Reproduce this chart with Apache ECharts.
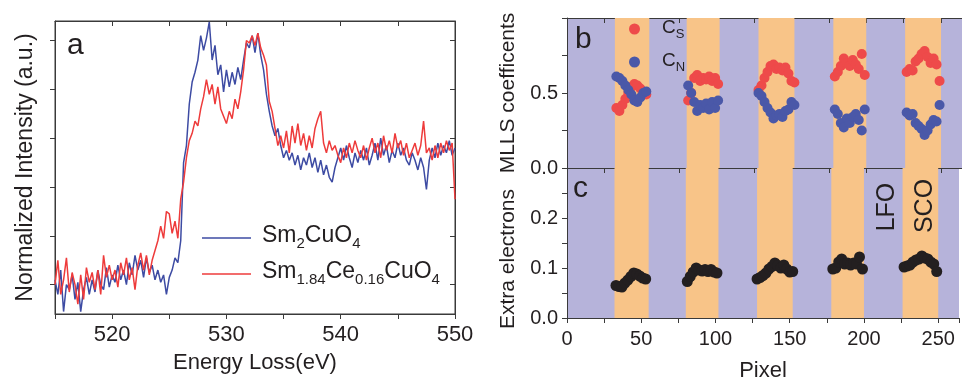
<!DOCTYPE html>
<html>
<head>
<meta charset="utf-8">
<script src="https://cdn.jsdelivr.net/npm/echarts@6.0.0/dist/echarts.min.js"></script>
<style>
  html, body { margin: 0; padding: 0; background: #fff; }
  #chart { width: 962px; height: 383px; }
</style>
</head>
<body>
<div id="chart"></div>
<script>
// panel a: EELS O-K edge, sampled every 0.25 eV from 515 eV
const energyStart = 515;
const energyStep = 0.25;
const sm2cuo4 = [
  0.10, -0.20, 0.30, -0.55, 0.00, -0.10, 0.20, -0.30,
  0.05, -0.55, -0.10, 0.15, -0.20, 0.10, -0.15, 0.30,
  0.00, -0.10, 0.35, -0.05, 0.20, 0.05, 0.40, 0.10,
  0.30, 0.00, 0.45, 0.20, 0.60, 0.30, 0.50, 0.15,
  0.55, 0.25, 0.40, 0.10, 0.30, 0.05, 0.20, -0.20,
  0.15, 0.30, 0.55, 0.45, 0.90, 2.50, 2.85, 3.70,
  4.15, 4.35, 4.60, 5.10, 4.80, 5.05, 5.38, 4.60,
  4.90, 4.30, 4.50, 3.95, 4.40, 4.05, 4.35, 4.10,
  4.45, 4.20, 4.60, 4.95, 4.85, 5.10, 4.75, 5.15,
  4.70, 4.40, 3.90, 3.55, 3.25, 3.05, 3.20, 2.85,
  2.60, 2.75, 2.55, 2.70, 2.45, 2.65, 2.35, 2.60,
  2.45, 2.70, 2.40, 2.60, 2.30, 2.55, 2.25, 2.45,
  2.20, 2.10, 2.40, 2.60, 2.80, 2.55, 2.85, 2.60,
  2.40, 2.70, 2.50, 2.75, 2.55, 2.80, 2.45, 2.65,
  2.90, 2.55, 3.00, 2.65, 2.85, 2.50, 2.75, 2.60,
  2.90, 2.65, 2.80, 2.55, 2.45, 2.70, 2.55, 2.35,
  2.60, 2.40, 1.95, 2.55, 2.80, 2.60, 2.90, 2.65,
  2.85, 2.70, 2.95, 2.65, 2.80
];
const sm184ce016cuo4 = [
  0.00, 0.50, -0.20, 0.10, 0.55, -0.15, 0.25, 0.00,
  -0.40, 0.20, -0.30, 0.35, 0.05, 0.25, -0.10, 0.30,
  -0.20, 0.60, 0.15, 0.40, 0.10, 0.30, -0.05, 0.45,
  0.20, 0.55, 0.10, 0.35, -0.10, 0.40, 0.65, 0.30,
  0.60, 0.20, 0.50, 0.70, 0.90, 1.20, 0.95, 1.50,
  1.45, 1.05, 1.30, 0.95, 1.75, 2.10, 2.60, 2.95,
  3.10, 3.35, 3.25, 3.60, 3.85, 4.20, 3.90, 4.10,
  3.70, 4.05, 3.60, 3.45, 3.30, 3.55, 3.40, 3.80,
  3.60, 3.95, 4.40, 5.00, 4.95, 5.10, 4.90, 5.15,
  4.85, 4.70, 4.50, 3.75, 3.55, 3.20, 2.85, 3.05,
  2.80, 3.15, 2.70, 3.25, 2.90, 3.30, 2.85, 3.10,
  2.75, 3.05, 2.80, 3.20, 3.40, 3.55, 2.90, 2.70,
  2.95, 2.75, 2.85, 2.65, 2.50, 2.80, 2.60, 2.90,
  2.70, 2.95, 2.75, 2.60, 2.85, 2.55, 2.80, 3.00,
  2.70, 2.90, 2.60, 3.05, 2.75, 2.95, 2.70, 3.10,
  2.80, 2.95, 2.65, 2.90, 2.60, 2.75, 2.90, 2.65,
  2.85, 3.35, 2.70, 2.80, 2.55, 2.85, 2.60, 2.90,
  2.70, 2.95, 2.75, 2.90, 1.75
];
const energyTicksA = [0, 1, 2, 3, 4, 5];

// panels b and c: line profile across the superlattice
const pixels = [
  33, 35, 37, 39, 41, 43, 45, 47, 49, 51, 53,
  81, 83, 85, 87, 89, 91, 93, 95, 97, 99, 101,
  128, 130, 132, 134, 136, 138, 140, 142, 144, 146, 148, 150, 152,
  179, 181, 183, 185, 187, 189, 191, 193, 195, 197, 199,
  227, 229, 231, 233, 235, 237, 239, 241, 243, 245, 247, 249
];
const coefS = [
  0.40, 0.38, 0.42, 0.46, 0.50, 0.54, 0.56, 0.55, 0.53, 0.50, 0.49,
  0.45, 0.50, 0.60, 0.62, 0.58, 0.60, 0.59, 0.61, 0.58, 0.60, 0.56,
  0.52, 0.55, 0.60, 0.64, 0.68, 0.69, 0.66, 0.67, 0.65, 0.67, 0.63, 0.58, 0.57,
  0.61, 0.64, 0.68, 0.73, 0.70, 0.68, 0.72, 0.69, 0.66, 0.76, 0.62,
  0.64, 0.66, 0.65, 0.71, 0.73, 0.76, 0.78, 0.74, 0.70, 0.73, 0.69, 0.58
];
const coefN = [
  0.61, 0.60, 0.58, 0.55, 0.52, 0.49, 0.45, 0.44, 0.47, 0.50, 0.51,
  0.55, 0.50, 0.44, 0.38, 0.42, 0.40, 0.43, 0.39, 0.44, 0.40, 0.45,
  0.50, 0.48, 0.44, 0.40, 0.37, 0.33, 0.35, 0.36, 0.34, 0.38, 0.39, 0.44, 0.42,
  0.39, 0.36, 0.30, 0.27, 0.33, 0.30, 0.34, 0.36, 0.32, 0.25, 0.39,
  0.37, 0.35, 0.36, 0.30, 0.28, 0.26, 0.22, 0.25, 0.29, 0.32, 0.31, 0.42
];
const extraElectrons = [
  0.065, 0.063, 0.062, 0.070, 0.076, 0.083, 0.090, 0.088, 0.084, 0.080, 0.078,
  0.073, 0.083, 0.092, 0.100, 0.096, 0.094, 0.097, 0.093, 0.097, 0.092, 0.090,
  0.078, 0.081, 0.085, 0.090, 0.098, 0.103, 0.110, 0.105, 0.100, 0.106, 0.098, 0.092, 0.093,
  0.098, 0.100, 0.112, 0.118, 0.108, 0.110, 0.106, 0.110, 0.108, 0.122, 0.098,
  0.102, 0.104, 0.106, 0.112, 0.116, 0.118, 0.124, 0.120, 0.118, 0.112, 0.108, 0.093
];
// SCO layers (orange); the rest is LFO (purple)
const scoBands = [[32, 55], [80, 102], [128, 152], [178, 200], [226, 250]];

const ink = '#231f20';
const font = "'Liberation Sans', Arial, Helvetica, sans-serif";
const purple = '#b6b3da';
const orange = '#f8c488';

const toPairs = (xs, ys) => ys.map((v, i) => [xs[i], v]);
const energies = sm2cuo4.map((_, i) => energyStart + i * energyStep);

const axisLine = { onZero: false, lineStyle: { color: '#3a3a3a', width: 1 } };
const tick = (inside) => ({ show: true, inside: inside, length: 5, lineStyle: { color: '#3a3a3a' } });

const chart = echarts.init(document.getElementById('chart'));

const bandArea = {
    silent: true,
    itemStyle: { color: orange, opacity: 1 },
    data: scoBands.map(b => [{ xAxis: b[0] }, { xAxis: b[1] }])
};

const option = {
    animation: false,
    textStyle: { fontFamily: font, color: ink },
    grid: [
        { left: 55, top: 21, width: 400, height: 293, show: true, borderColor: '#3a3a3a', borderWidth: 1, backgroundColor: '#fff' },
        { left: 567, top: 18, width: 395, height: 150, show: true, borderWidth: 0, backgroundColor: purple },
        { left: 567, top: 168, width: 395, height: 150, show: true, borderWidth: 0, backgroundColor: purple }
    ],
    xAxis: [
        {
            gridIndex: 0, type: 'value', min: 515, max: 550, interval: 5,
            axisLine: axisLine, axisTick: tick(false), splitLine: { show: false },
            axisLabel: { fontSize: 22, color: ink, margin: 10, formatter: v => (v % 10 === 0 ? String(v) : '') },
            name: 'Energy Loss(eV)', nameLocation: 'middle', nameGap: 38,
            nameTextStyle: { fontSize: 22, color: ink }
        },
        {
            gridIndex: 0, type: 'value', position: 'top', min: 515, max: 550, interval: 5,
            axisLine: axisLine, axisTick: tick(true), axisLabel: { show: false }, splitLine: { show: false }
        },
        {
            gridIndex: 1, type: 'value', min: 0, max: 264, interval: 25,
            axisLine: axisLine, axisTick: tick(false), axisLabel: { show: false }, splitLine: { show: false }
        },
        {
            gridIndex: 1, type: 'value', position: 'top', min: 0, max: 264, interval: 25,
            axisLine: axisLine, axisTick: tick(true), axisLabel: { show: false }, splitLine: { show: false }
        },
        {
            gridIndex: 2, type: 'value', min: 0, max: 264, interval: 25,
            axisLine: axisLine, axisTick: tick(false), splitLine: { show: false },
            axisLabel: { fontSize: 20, color: ink, margin: 11, formatter: v => (v % 50 === 0 ? String(v) : '') },
            name: 'Pixel', nameLocation: 'middle', nameGap: 42,
            nameTextStyle: { fontSize: 22, color: ink }
        }
    ],
    yAxis: [
        {
            gridIndex: 0, type: 'value', min: -0.6, max: 5.4,
            axisLine: axisLine, splitLine: { show: false },
            axisTick: Object.assign(tick(false), { customValues: energyTicksA }),
            axisLabel: { show: false },
            name: 'Normalized Intensity (a.u.)', nameLocation: 'middle', nameGap: 18,
            nameTextStyle: { fontSize: 23, color: ink }
        },
        {
            gridIndex: 0, type: 'value', position: 'right', min: -0.6, max: 5.4,
            axisLine: axisLine, splitLine: { show: false },
            axisTick: Object.assign(tick(true), { customValues: energyTicksA }),
            axisLabel: { show: false }
        },
        {
            gridIndex: 1, type: 'value', min: 0, max: 1, interval: 0.25,
            axisLine: axisLine, axisTick: tick(false), splitLine: { show: false },
            axisLabel: {
                fontSize: 20, color: ink, margin: 9,
                formatter: v => (v === 0 || v === 0.5 ? v.toFixed(1) : '')
            },
            name: 'MLLS coefficents', nameLocation: 'middle', nameGap: 48,
            nameTextStyle: { fontSize: 21, color: ink }
        },
        {
            gridIndex: 2, type: 'value', min: 0, max: 0.3, interval: 0.05,
            axisLine: axisLine, axisTick: tick(false), splitLine: { show: false },
            axisLabel: {
                fontSize: 20, color: ink, margin: 9,
                formatter: v => {
                    const t = Math.round(v * 100);
                    return t % 10 === 0 && t < 30 ? v.toFixed(1) : '';
                }
            },
            name: 'Extra electrons', nameLocation: 'middle', nameGap: 48,
            nameTextStyle: { fontSize: 21, color: ink, padding: [0, 32, 0, 0] }
        }
    ],
    legend: [
        {
            data: ['Sm2CuO4', 'Sm1.84Ce0.16CuO4'],
            orient: 'vertical', left: 202, top: 224, itemGap: 9, padding: 0,
            icon: 'rect', itemWidth: 49, itemHeight: 1.6,
            selectedMode: false,
            formatter: name => name === 'Sm2CuO4'
                ? '{g|}{m|Sm}{s|2}{m|CuO}{s|4}'
                : '{g|}{m|Sm}{s|1.84}{m|Ce}{s|0.16}{m|CuO}{s|4}',
            textStyle: {
                rich: {
                    g: { width: 6 },
                    m: { fontSize: 23, lineHeight: 28, color: ink, fontFamily: font, verticalAlign: 'top' },
                    s: { fontSize: 15, lineHeight: 15, padding: [12, 0, 0, 0], color: ink, fontFamily: font, verticalAlign: 'top' }
                }
            }
        },
        {
            data: ['Cs', 'Cn'],
            orient: 'vertical', left: 629, top: 18, itemGap: 10, padding: 0,
            itemWidth: 11, itemHeight: 11, icon: 'circle',
            selectedMode: false,
            formatter: name => name === 'Cs' ? '{g|}{m|C}{s|S}' : '{g|}{m|C}{s|N}',
            textStyle: {
                rich: {
                    g: { width: 17 },
                    m: { fontSize: 19, lineHeight: 22, color: ink, fontFamily: font, verticalAlign: 'top' },
                    s: { fontSize: 13, lineHeight: 13, padding: [10, 0, 0, 0], color: ink, fontFamily: font, verticalAlign: 'top' }
                }
            }
        }
    ],
    series: [
        {
            name: 'Sm2CuO4', type: 'line', xAxisIndex: 0, yAxisIndex: 0,
            data: toPairs(energies, sm2cuo4), symbol: 'none',
            lineStyle: { color: '#3d4ba3', width: 1.5 }, itemStyle: { color: '#3d4ba3' }
        },
        {
            name: 'Sm1.84Ce0.16CuO4', type: 'line', xAxisIndex: 0, yAxisIndex: 0,
            data: toPairs(energies, sm184ce016cuo4), symbol: 'none',
            lineStyle: { color: '#ee3b3b', width: 1.5 }, itemStyle: { color: '#ee3b3b' }
        },
        {
            name: 'bandsB', type: 'scatter', xAxisIndex: 2, yAxisIndex: 2, z: 1,
            data: [], silent: true, markArea: bandArea
        },
        {
            name: 'Cs', type: 'scatter', xAxisIndex: 2, yAxisIndex: 2, z: 3,
            data: toPairs(pixels, coefS), symbolSize: 10,
            itemStyle: { color: '#ee4a4a', opacity: 1 }
        },
        {
            name: 'Cn', type: 'scatter', xAxisIndex: 2, yAxisIndex: 2, z: 4,
            data: toPairs(pixels, coefN), symbolSize: 10,
            itemStyle: { color: '#4a58a8', opacity: 1 }
        },
        {
            name: 'bandsC', type: 'scatter', xAxisIndex: 4, yAxisIndex: 3, z: 1,
            data: [], silent: true, markArea: bandArea
        },
        {
            name: 'Extra electrons', type: 'scatter', xAxisIndex: 4, yAxisIndex: 3, z: 3,
            data: toPairs(pixels, extraElectrons), symbolSize: 11,
            itemStyle: { color: ink, opacity: 1 }
        }
    ],
    graphic: [
        { type: 'text', z: 100, left: 67, top: 31, style: { text: 'a', font: '30px ' + font, fill: ink } },
        { type: 'text', z: 100, left: 575, top: 25, style: { text: 'b', font: '30px ' + font, fill: ink } },
        { type: 'text', z: 100, left: 573, top: 174, style: { text: 'c', font: '30px ' + font, fill: ink } },
        {
            type: 'text', z: 100, x: 887, y: 207, rotation: Math.PI / 2,
            style: { text: 'LFO', font: '25px ' + font, fill: ink, align: 'center', verticalAlign: 'middle' }
        },
        {
            type: 'text', z: 100, x: 925, y: 206, rotation: Math.PI / 2,
            style: { text: 'SCO', font: '25px ' + font, fill: ink, align: 'center', verticalAlign: 'middle' }
        }
    ]
};

chart.setOption(option);
window.addEventListener('resize', () => chart.resize());
</script>
</body>
</html>
